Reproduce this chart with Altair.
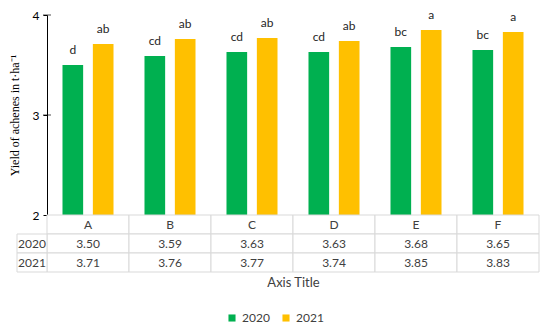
import altair as alt
import pandas as pd

categories = ["A", "B", "C", "D", "E", "F"]
years = ["2020", "2021"]
yield_2020 = [3.50, 3.59, 3.63, 3.63, 3.68, 3.65]
yield_2021 = [3.71, 3.76, 3.77, 3.74, 3.85, 3.83]
letters_2020 = ["d", "cd", "cd", "cd", "bc", "bc"]
letters_2021 = ["ab", "ab", "ab", "ab", "a", "a"]
y_ticks = [2, 3, 4]

FONT = "Lato"
SERIF = "Liberation Serif"
W = 492
H = 200
ROW_H = 19

bars_df = pd.DataFrame({
    "cat": categories * 2,
    "year": ["2020"] * len(categories) + ["2021"] * len(categories),
    "value": yield_2020 + yield_2021,
    "letter": letters_2020 + letters_2021,
})

table_records = []
for i, c in enumerate(categories):
    table_records.append({"cat": c, "row": "hdr", "text": c})
    table_records.append({"cat": c, "row": "2020", "text": f"{yield_2020[i]:.2f}"})
    table_records.append({"cat": c, "row": "2021", "text": f"{yield_2021[i]:.2f}"})
table_df = pd.DataFrame(table_records)
left_df = pd.DataFrame({"row": years})
ticks_df = pd.DataFrame({"value": y_ticks[1:]})

xscale = alt.Scale(domain=categories, paddingInner=0, paddingOuter=0)
yscale = alt.Scale(domain=[2, 4], nice=False, zero=False)
yrow_scale = alt.Scale(domain=["hdr", "2020", "2021"], paddingInner=0, paddingOuter=0)

color = alt.Color(
    "year:N",
    scale=alt.Scale(domain=years, range=["#00B050", "#FFC000"]),
    legend=alt.Legend(
        title=None, orient="none", legendX=179, legendY=297, direction="horizontal",
        symbolType="square", symbolSize=50, symbolStrokeWidth=0, labelFont=FONT,
        labelFontSize=12, labelColor="#404040", columnPadding=10,
    ),
)

base = alt.Chart(bars_df).encode(
    x=alt.X("cat:N", scale=xscale, axis=None),
    xOffset=alt.XOffset("year:N", scale=alt.Scale(domain=years, paddingInner=0.32, paddingOuter=0.51)),
    y=alt.Y(
        "value:Q",
        scale=yscale,
        axis=alt.Axis(
            values=y_ticks, format=".0f", grid=False, domainColor="black", tickColor="black",
            tickSize=4, labelPadding=4, labelFont=FONT, labelFontSize=12,
            labelColor="black", title="Yield of achenes in t·ha⁻¹", titleFont=SERIF,
            titleFontSize=12, titleFontWeight="normal", titleColor="black", titlePadding=11,
        ),
    ),
)
bars = base.mark_bar(clip=True).encode(color=color)
letters = base.mark_text(baseline="bottom", dy=-8, font=FONT, fontSize=12, color="#262626").encode(
    text="letter:N"
)
inner_ticks = alt.Chart(ticks_df).mark_tick(color="black", thickness=1, size=8, orient="horizontal").encode(
    y=alt.Y("value:Q", scale=yscale), x=alt.value(0)
)
top = alt.layer(bars, letters, inner_ticks).properties(width=W, height=H)

tb = alt.Chart(table_df).encode(
    x=alt.X(
        "cat:N", scale=xscale,
        axis=alt.Axis(
            title="Axis Title", labels=False, ticks=False, domain=False, titleFont=FONT,
            titleFontSize=13, titleFontWeight="normal", titleColor="#404040", titlePadding=4,
        ),
    ),
    y=alt.Y("row:N", scale=yrow_scale, axis=None),
)
cells = tb.mark_rect(fill="white", stroke="#d9d9d9", strokeWidth=1)
cell_text = tb.mark_text(font=FONT, fontSize=12, color="#404040").encode(text="text:N")

left = alt.Chart(left_df).encode(y=alt.Y("row:N", scale=yrow_scale, axis=None))
left_rect = left.mark_rect(fill="white", stroke="#d9d9d9", strokeWidth=1).encode(
    x=alt.value(-30), x2=alt.value(0)
)
left_text = left.mark_text(font=FONT, fontSize=12, color="#404040").encode(
    x=alt.value(-15), text="row:N"
)
table = alt.layer(cells, cell_text, left_rect, left_text).properties(width=W, height=ROW_H * 3)

chart = alt.vconcat(top, table, spacing=0, bounds="flush").properties(
    padding={"left": 0, "top": 0, "right": 0, "bottom": 0}
).configure_view(stroke=None)

chart.save("out.html", embed_options={"renderer": "svg", "actions": False})
